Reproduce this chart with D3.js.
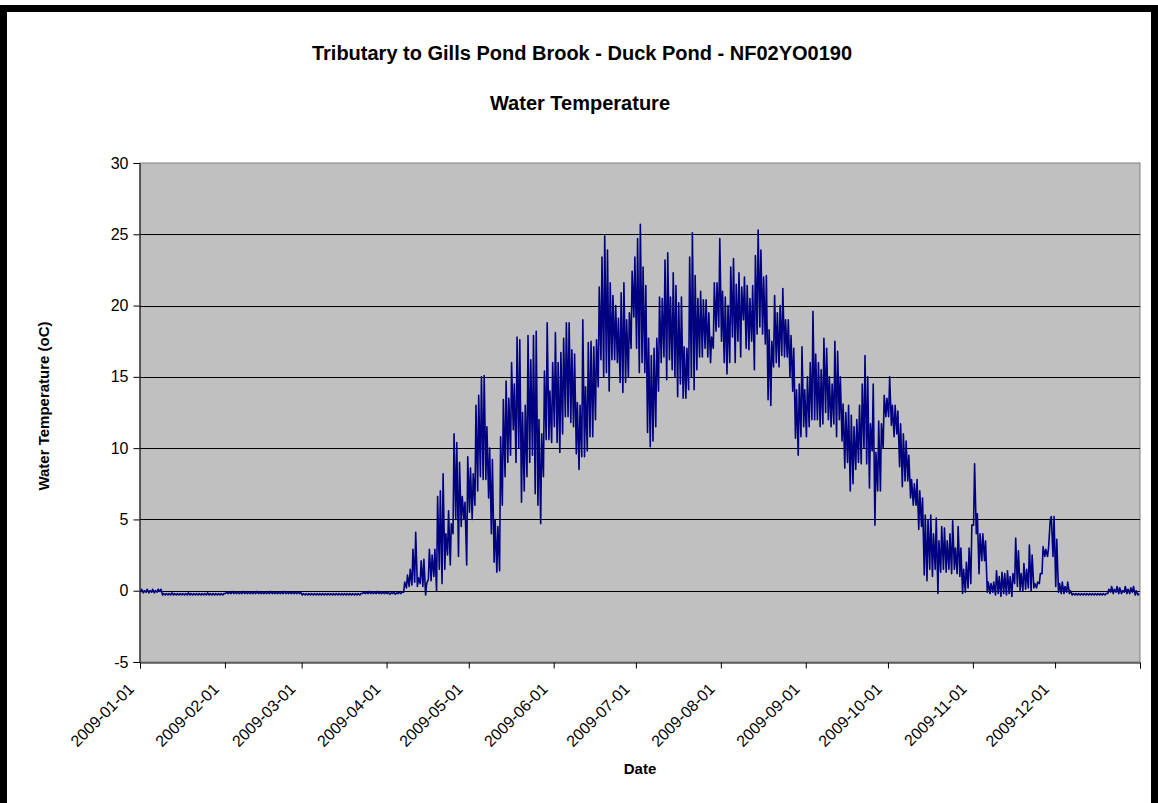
<!DOCTYPE html>
<html>
<head>
<meta charset="utf-8">
<script src="https://cdn.jsdelivr.net/npm/d3@7"></script>
<style>
  body { margin: 0; background: #fff; }
  svg { display: block; font-family: "Liberation Sans", Arial, sans-serif; }
</style>
</head>
<body>
<svg id="chart" width="1158" height="803"></svg>
<script>
// daily highs / lows (oC), one value per day
var hiJan = [0.1,0.0,0.1,0.0,0.1,0.0,0.1,0.1,-0.2,-0.2,-0.2,-0.15,-0.2,-0.2,-0.2,-0.2,-0.2,-0.15,-0.2,-0.2,-0.2,-0.2,-0.2,-0.2,-0.15,-0.2,-0.2,-0.2,-0.2,-0.2,-0.2];
var loJan = [-0.1,-0.15,-0.1,-0.15,-0.1,-0.15,-0.1,-0.05,-0.3,-0.3,-0.3,-0.3,-0.3,-0.3,-0.3,-0.3,-0.3,-0.3,-0.3,-0.3,-0.3,-0.3,-0.3,-0.3,-0.3,-0.3,-0.3,-0.3,-0.3,-0.3,-0.3];
var hiFeb = [-0.1,-0.1,-0.05,-0.1,-0.1,-0.1,-0.05,-0.1,-0.1,-0.1,-0.1,-0.05,-0.1,-0.1,-0.1,-0.1,-0.05,-0.1,-0.1,-0.1,-0.1,-0.05,-0.1,-0.1,-0.1,-0.1,-0.1,-0.1];
var loFeb = [-0.2,-0.2,-0.2,-0.2,-0.2,-0.2,-0.2,-0.2,-0.2,-0.2,-0.2,-0.2,-0.2,-0.2,-0.2,-0.2,-0.2,-0.2,-0.2,-0.2,-0.2,-0.2,-0.2,-0.2,-0.2,-0.2,-0.2,-0.2];
var hiMar = [-0.2,-0.2,-0.2,-0.2,-0.2,-0.2,-0.2,-0.2,-0.2,-0.2,-0.2,-0.2,-0.2,-0.2,-0.2,-0.2,-0.2,-0.2,-0.2,-0.2,-0.2,-0.2,-0.1,-0.1,-0.05,-0.1,-0.1,-0.05,-0.1,-0.1,-0.1];
var loMar = [-0.3,-0.3,-0.3,-0.3,-0.3,-0.3,-0.3,-0.3,-0.3,-0.3,-0.3,-0.3,-0.3,-0.3,-0.3,-0.3,-0.3,-0.3,-0.3,-0.3,-0.3,-0.3,-0.2,-0.2,-0.2,-0.2,-0.2,-0.2,-0.2,-0.2,-0.2];
var hiApr = [-0.1,-0.15,-0.1,-0.15,-0.1,-0.1,0.6,1.1,1.5,2.9,4.1,0.9,2.1,2.2,0.5,2.9,2.5,2.9,6.6,7.0,8.2,4.0,5.6,4.7,11.0,10.4,9.0,6.6,6.2,9.4];
var loApr = [-0.2,-0.25,-0.2,-0.25,-0.2,-0.2,-0.1,0.2,0.3,0.4,0.6,0.3,0.5,0.3,-0.3,0.8,0.7,1.0,0.0,1.5,0.5,1.5,2.5,1.8,4.0,5.0,2.4,4.5,5.0,1.8];
var hiMay = [8.6,8.2,13.0,13.7,15.0,15.1,11.5,10.0,9.2,5.0,4.5,10.8,13.4,14.7,13.5,16.0,14.5,17.8,17.6,12.5,13.0,17.9,16.2,17.9,18.2,12.0,11.0,15.4,18.8,14.0,16.0];
var loMay = [5.5,5.0,6.0,7.0,8.0,7.8,7.8,6.5,4.0,2.0,1.3,1.4,6.0,8.0,9.0,9.5,11.3,9.0,10.0,6.2,7.0,8.0,9.0,9.5,6.8,6.0,4.7,8.0,10.6,10.6,10.4];
var hiJun = [18.1,16.0,16.7,17.7,18.8,18.8,16.9,16.6,13.2,13.0,19.0,14.3,17.4,17.5,17.1,17.6,21.3,23.4,24.9,23.9,21.6,20.7,20.0,19.1,20.9,21.6,19.0,19.5,22.4,23.4];
var loJun = [11.5,10.4,9.7,11.0,12.2,12.2,11.8,11.5,9.6,8.5,9.4,9.4,9.8,10.8,10.8,12.0,14.3,16.2,15.0,15.3,14.0,16.2,16.2,16.0,14.6,13.9,14.6,15.0,17.0,19.2];
var hiJul = [24.7,25.7,22.7,21.4,17.7,16.5,17.0,17.7,20.6,20.5,23.2,23.7,20.6,22.3,21.4,20.2,20.6,17.1,17.0,23.4,25.1,22.1,20.5,21.0,20.4,20.4,19.5,17.8,21.6,21.6,24.7];
var loJul = [17.0,15.3,16.0,15.3,11.1,10.1,10.5,11.5,14.0,16.0,16.4,14.8,16.2,15.5,15.0,13.6,14.5,13.5,13.5,14.1,15.0,14.1,15.5,16.4,16.4,17.0,16.4,16.0,17.0,18.2,18.5];
var hiAug = [21.0,20.6,20.0,22.7,23.3,21.5,22.3,21.3,22.0,21.4,20.5,21.4,23.5,25.3,23.9,22.0,22.1,18.3,17.5,20.7,19.5,20.0,21.2,19.0,19.0,17.9,17.0,14.1,14.5,17.1,14.1];
var loAug = [17.5,16.0,15.2,16.0,17.8,16.0,17.5,16.4,19.0,17.0,16.9,17.5,15.5,18.0,18.5,18.0,17.3,13.4,13.0,15.7,16.0,15.7,16.5,16.4,16.4,15.0,14.0,10.7,9.5,10.8,11.5];
var hiSep = [15.0,16.0,19.6,16.6,16.0,15.5,17.7,17.0,15.0,14.5,17.5,16.8,15.0,13.1,12.5,13.0,12.3,11.5,12.0,13.0,14.5,16.5,15.0,11.7,14.5,9.7,11.9,11.7,13.7,13.5];
var loSep = [10.8,11.5,12.0,12.0,12.0,11.5,11.7,12.5,12.0,11.5,11.7,10.8,12.0,10.5,8.6,9.0,7.0,7.5,8.5,9.0,8.9,10.0,8.9,7.2,9.8,4.6,7.0,7.0,10.0,12.2];
var hiOct = [15.0,13.0,13.0,12.6,11.7,11.0,10.5,9.5,7.8,7.5,7.8,7.0,6.5,5.3,5.0,5.3,4.0,5.1,3.5,4.5,4.4,3.5,4.0,4.9,3.0,4.5,3.0,1.5,2.0,3.0,4.6];
var loOct = [12.2,11.6,10.8,11.0,8.7,7.3,7.7,7.7,6.5,6.0,6.0,4.3,4.5,1.1,0.7,1.5,1.0,1.5,-0.2,1.3,1.5,1.3,1.5,1.2,1.5,1.2,1.0,-0.2,-0.1,0.2,0.5];
var hiNov = [8.9,5.4,4.0,4.0,3.5,0.6,0.5,0.6,1.4,1.0,1.3,1.2,1.4,1.0,1.2,3.7,2.8,1.2,1.9,1.5,3.2,2.5,0.5,0.6,1.2,3.1,2.9,3.0,5.2,5.2];
var loNov = [4.6,4.0,1.2,2.1,2.1,-0.1,-0.2,-0.1,-0.3,-0.2,-0.4,-0.2,-0.3,-0.2,-0.4,0.5,0.3,0.0,0.0,0.1,0.2,0.0,0.2,0.2,0.5,1.2,2.4,2.4,5.0,2.4];
var hiDec = [3.6,0.5,0.6,0.3,0.6,0.0,-0.2,-0.2,-0.2,-0.2,-0.2,-0.2,-0.2,-0.2,-0.2,-0.2,-0.2,-0.2,-0.2,0.1,0.3,0.1,0.3,0.2,0.0,0.3,0.1,0.2,0.3,0.0,-0.2];
var loDec = [0.3,-0.1,-0.2,-0.2,-0.1,-0.2,-0.3,-0.3,-0.3,-0.3,-0.3,-0.3,-0.3,-0.3,-0.3,-0.3,-0.3,-0.3,-0.3,-0.2,-0.1,-0.2,-0.1,-0.2,-0.2,-0.1,-0.2,-0.2,-0.1,-0.3,-0.3];

var monthTicks = ["2009-01-01","2009-02-01","2009-03-01","2009-04-01","2009-05-01","2009-06-01",
                  "2009-07-01","2009-08-01","2009-09-01","2009-10-01","2009-11-01","2009-12-01"];
var yTicks = [-5, 0, 5, 10, 15, 20, 25, 30];

var dailyHi = [].concat(hiJan, hiFeb, hiMar, hiApr, hiMay, hiJun, hiJul, hiAug, hiSep, hiOct, hiNov, hiDec);
var dailyLo = [].concat(loJan, loFeb, loMar, loApr, loMay, loJun, loJul, loAug, loSep, loOct, loNov, loDec);

var parseDay = d3.timeParse("%Y-%m-%d");
var start = parseDay("2009-01-01");

/* morning low and afternoon high for every day */
var series = [];
dailyHi.forEach(function(h, i) {
  var day = d3.timeDay.offset(start, i);
  series.push({t: d3.timeHour.offset(day, 6), v: dailyLo[i]});
  series.push({t: d3.timeHour.offset(day, 15), v: h});
});

var svg = d3.select("#chart");
var plot = {left: 140, top: 163, right: 1140, bottom: 662};

// outer frame
svg.append("rect")
    .attr("x", 3.5).attr("y", 8.5)
    .attr("width", 1151).attr("height", 900)
    .attr("fill", "#fff").attr("stroke", "#000").attr("stroke-width", 7);

var x = d3.scaleTime()
    .domain([start, parseDay("2010-01-01")])
    .range([plot.left, plot.right]);
var y = d3.scaleLinear()
    .domain([-5, 30])
    .range([plot.bottom, plot.top]);

svg.append("rect")
    .attr("x", plot.left).attr("y", plot.top)
    .attr("width", plot.right - plot.left).attr("height", plot.bottom - plot.top)
    .attr("fill", "#c0c0c0").attr("stroke", "#808080");

// gridlines
svg.append("g").selectAll("line")
    .data(yTicks.filter(function(t) { return t > -5 && t < 30; }))
    .enter().append("line")
      .attr("x1", plot.left).attr("x2", plot.right)
      .attr("y1", function(d) { return Math.round(y(d)) + 0.5; })
      .attr("y2", function(d) { return Math.round(y(d)) + 0.5; })
      .attr("stroke", "#000");

svg.append("defs").append("clipPath").attr("id", "clip")
  .append("rect")
    .attr("x", plot.left).attr("y", plot.top)
    .attr("width", plot.right - plot.left).attr("height", plot.bottom - plot.top);

var line = d3.line()
    .x(function(d) { return x(d.t); })
    .y(function(d) { return y(d.v); });

svg.append("path")
    .datum(series)
    .attr("clip-path", "url(#clip)")
    .attr("fill", "none")
    .attr("stroke", "#000080")
    .attr("stroke-width", 1.6)
    .attr("stroke-linejoin", "round")
    .attr("d", line);

/* y as */
var yAxis = svg.append("g")
    .attr("transform", "translate(" + (plot.left - 0.5) + ",0)")
    .call(d3.axisLeft(y).tickValues(yTicks).tickSize(6).tickPadding(5)
      .tickFormat(function(d) { return String(d); }));

/* x as, ticks op elke maand plus het eind */
var xTickDates = monthTicks.map(parseDay).concat([parseDay("2010-01-01")]);
svg.append("g")
    .attr("transform", "translate(0," + (plot.bottom + 0.5) + ")")
    .call(d3.axisBottom(x).tickValues(xTickDates).tickSize(6).tickFormat(""));

svg.selectAll(".domain").attr("stroke", "#000");
svg.selectAll(".tick line").attr("stroke", "#000");
yAxis.selectAll("text")
    .attr("font-size", 16)
    .attr("fill", "#000")
    .attr("font-family", "Liberation Sans, Arial, sans-serif");

svg.append("g").selectAll("text")
    .data(monthTicks)
    .enter().append("text")
      .attr("transform", function(d) {
        return "translate(" + (x(parseDay(d)) - 5) + "," + (plot.bottom + 28) + ") rotate(-45)";
      })
      .attr("text-anchor", "end")
      .attr("font-size", 16)
      .text(function(d) { return d; });

// titels
svg.append("text")
    .attr("x", 582).attr("y", 60)
    .attr("text-anchor", "middle")
    .attr("font-size", 20).attr("font-weight", "bold")
    .text("Tributary to Gills Pond Brook - Duck Pond - NF02YO0190");

svg.append("text")
    .attr("x", 580).attr("y", 110)
    .attr("text-anchor", "middle")
    .attr("font-size", 20).attr("font-weight", "bold")
    .text("Water Temperature");

svg.append("text")
    .attr("transform", "translate(49,406) rotate(-90)")
    .attr("text-anchor", "middle")
    .attr("font-size", 15).attr("font-weight", "bold")
    .text("Water Temperature (oC)");

svg.append("text")
    .attr("x", (plot.left + plot.right) / 2).attr("y", 774)
    .attr("text-anchor", "middle")
    .attr("font-size", 15).attr("font-weight", "bold")
    .text("Date");
</script>
</body>
</html>
